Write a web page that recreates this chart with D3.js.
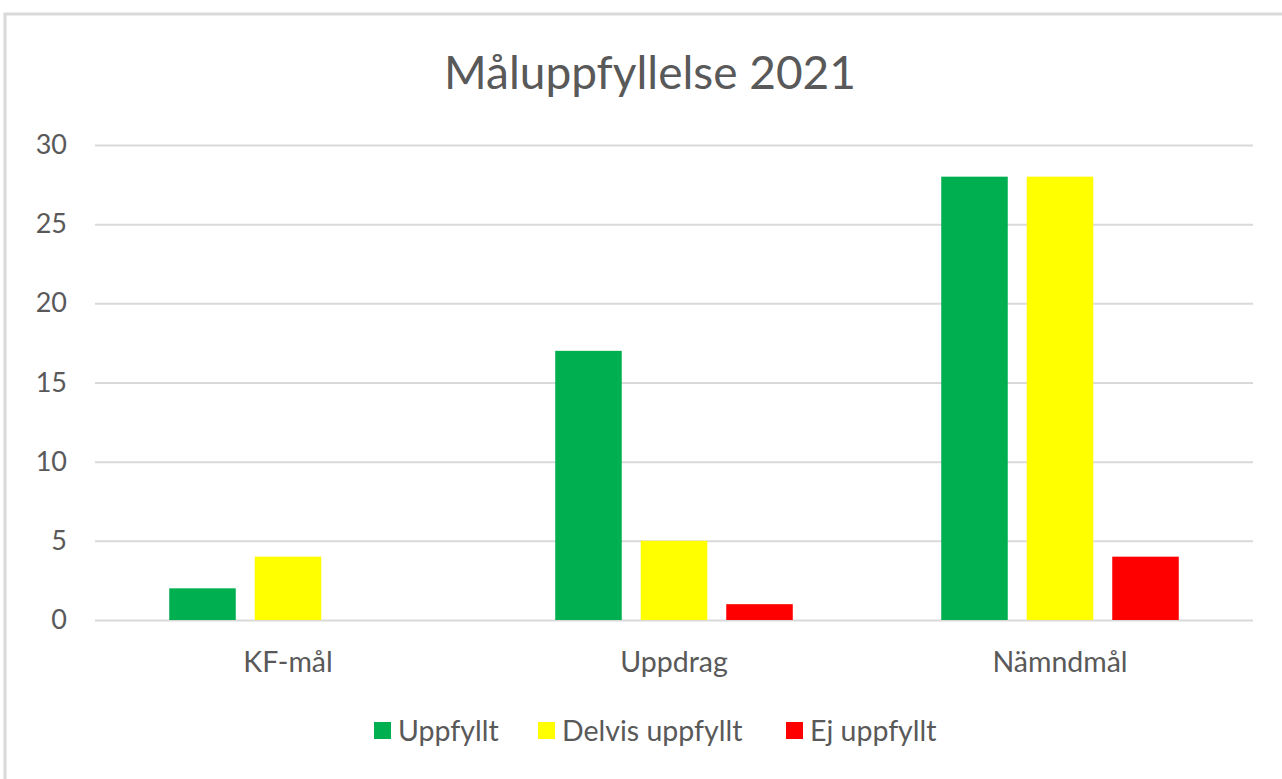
<!DOCTYPE html>
<html>
<head>
<meta charset="utf-8">
<script src="https://cdn.jsdelivr.net/npm/d3@7"></script>
<style>
  body { margin: 0; background: #ffffff; }
  text { font-family: Lato, "Open Sans", sans-serif; fill: #595959; }
</style>
</head>
<body>
<div id="chart"></div>
<script>
// data
var categories = ["KF-mål", "Uppdrag", "Nämndmål"];
var series = ["Uppfyllt", "Delvis uppfyllt", "Ej uppfyllt"];
var colors = ["#00b050", "#ffff00", "#ff0000"];
var uppfyllt = [2, 17, 28];
var delvis = [4, 5, 28];
var ej = [0, 1, 4];
var yTicks = [0, 5, 10, 15, 20, 25, 30];

var values = [uppfyllt, delvis, ej];

// dimensions
var W = 1282, H = 779;
var margin = {top: 145, right: 29, bottom: 159, left: 95},
    width = W - margin.left - margin.right,
    height = H - margin.top - margin.bottom;

var root = d3.select("#chart")
  .append("svg")
    .attr("width", W)
    .attr("height", H);

// chart frame
root.append("rect")
    .attr("x", 5).attr("y", 14)
    .attr("width", W + 10).attr("height", H + 10)
    .style("fill", "#ffffff")
    .style("stroke", "#d9d9d9")
    .style("stroke-width", 3);

// title
root.append("text")
    .attr("x", 650).attr("y", 89)
    .style("text-anchor", "middle")
    .style("font-size", "46px")
    .text("Måluppfyllelse 2021");

var svg = root.append("g")
    .attr("transform", "translate(" + margin.left + "," + margin.top + ")");

// scales
var x0 = d3.scaleBand()
    .domain(categories)
    .range([0, width]);

var x1 = d3.scaleBand()
    .domain(series)
    .range([0, x0.bandwidth()])
    .paddingInner(0.222)
    .paddingOuter(0.868);

var y = d3.scaleLinear()
    .domain([0, 30])
    .range([height, 0]);

// gridlines
svg.append("g")
    .call(d3.axisLeft(y).tickValues(yTicks).tickSize(-width).tickFormat(""))
    .call(function(g) { g.select(".domain").remove(); })
    .selectAll("line")
      .style("stroke", "#d9d9d9")
      .style("stroke-width", 2);

// y labels
svg.append("g")
    .call(d3.axisLeft(y).tickValues(yTicks).tickSize(0).tickPadding(28))
    .call(function(g) { g.select(".domain").remove(); })
    .selectAll("text")
      .style("font-size", "27px")
      .style("font-family", "Lato, sans-serif")
      .attr("fill", "#595959");

// x labels
svg.append("g")
    .attr("transform", "translate(0," + height + ")")
    .call(d3.axisBottom(x0).tickSize(0).tickPadding(32))
    .call(function(g) { g.select(".domain").remove(); })
    .selectAll("text")
      .style("font-size", "28.5px")
      .style("font-family", "Lato, sans-serif")
      .attr("fill", "#595959");

// bars
var groups = svg.selectAll(".grp")
  .data(categories)
  .enter()
  .append("g")
    .attr("class", "grp")
    .attr("transform", function(d) { return "translate(" + x0(d) + ",0)"; });

groups.selectAll("rect")
  .data(function(d, i) { return series.map(function(s, j) { return {s: s, v: values[j][i], c: colors[j]}; }); })
  .enter()
  .append("rect")
    .attr("x", function(d) { return x1(d.s); })
    .attr("y", function(d) { return y(d.v); })
    .attr("width", x1.bandwidth())
    .attr("height", function(d) { return height - y(d.v); })
    .style("fill", function(d) { return d.c; });

// legend
var legendX = [374, 538, 786];
var leg = root.selectAll(".leg")
  .data(series)
  .enter()
  .append("g")
    .attr("class", "leg")
    .attr("transform", function(d, i) { return "translate(" + legendX[i] + ",731)"; });
leg.append("rect")
    .attr("x", 0).attr("y", -9)
    .attr("width", 17).attr("height", 17)
    .style("fill", function(d, i) { return colors[i]; });
leg.append("text")
    .attr("x", 24).attr("y", 0)
    .attr("dy", "0.35em")
    .style("font-size", "28.5px")
    .text(function(d) { return d; });
</script>
</body>
</html>
